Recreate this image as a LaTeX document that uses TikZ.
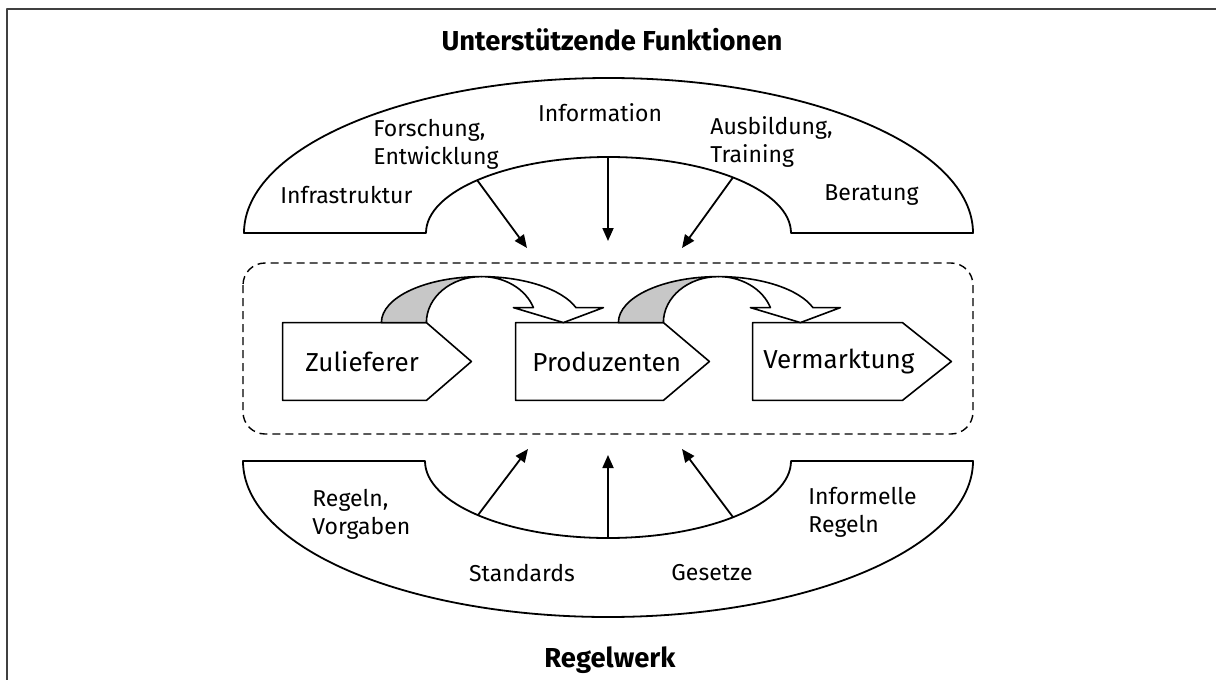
\documentclass[tikz,border=0pt]{standalone}
\usepackage{fontspec}
\setmainfont{Fira Sans}
\usetikzlibrary{arrows.meta,calc}
\begin{document}
\begin{tikzpicture}[x=0.5pt,y=-0.5pt,line join=round,>={Triangle[length=6.5pt,width=5.5pt]},
    bogen/.style={draw,line width=0.9pt,fill=white},
    etikett/.style={inner sep=0pt,font=\fontsize{11.5}{14}\selectfont,align=left},
    titel/.style={inner sep=0pt,font=\fontsize{13.7}{15}\selectfont\bfseries},
    stufe/.style={inner sep=0pt,minimum height=38.5pt},
    stufentext/.style={inner sep=0pt,font=\fontsize{13}{15}\selectfont},
    kante/.style={draw,line width=0.8pt},
    pfeil/.style={->,line width=0.9pt},
    rahmen/.style={draw,line width=0.7pt,dash pattern=on 4pt off 2.5pt,rounded corners=11pt},
    band/.style={draw,line width=0.8pt}]
\useasboundingbox (0,0) rectangle (1216,680);
\draw[line width=1pt,black!75] (7,680) -- (7,9) -- (1216,9);
\node[titel] (titelOben) at (612,40) {Unterstützende Funktionen};
\node[titel] (titelUnten) at (610,660) {Regelwerk};
% Boegen oben und unten
\draw[bogen] (244,233) arc[start angle=180,end angle=360,x radius=364.5,y radius=155]
    -- (791,233) arc[start angle=0,end angle=-180,x radius=182.5,y radius=76] -- cycle;
\draw[bogen] (243,461) arc[start angle=180,end angle=0,x radius=365,y radius=156]
    -- (791,461) arc[start angle=0,end angle=180,x radius=183,y radius=77] -- cycle;
\coordinate (mo) at (608.5,233);
\coordinate (mu) at (608,461);
\coordinate (fo1) at ($(mo)+(224:182.5 and 76)$);
\coordinate (fo2) at (608,157);
\coordinate (fo3) at ($(mo)+(313:182.5 and 76)$);
\coordinate (fu1) at ($(mu)+(135.3:183 and 77)$);
\coordinate (fu2) at ($(mu)+(90:183 and 77)$);
\coordinate (fu3) at ($(mu)+(46.9:183 and 77)$);
\coordinate (zo1) at (527,248);
\coordinate (zo2) at (608,241);
\coordinate (zo3) at (682,248);
\coordinate (zu1) at (528,449);
\coordinate (zu2) at (608,455);
\coordinate (zu3) at (682,449);
\draw[pfeil] (fo1) -- (zo1);
\draw[pfeil] (fo2) -- (zo2);
\draw[pfeil] (fo3) -- (zo3);
\draw[pfeil] (fu1) -- (zu1);
\draw[pfeil] (fu2) -- (zu2);
\draw[pfeil] (fu3) -- (zu3);
% Beschriftungen
\node[etikett,anchor=west] (forschung) at (373,144) {Forschung,\\Entwicklung};
\node[etikett] (information) at (600,113) {Information};
\node[etikett,anchor=west] (infra) at (280,195) {Infrastruktur};
\node[etikett,anchor=west] (ausbildung) at (710,142) {Ausbildung,\\Training};
\node[etikett,anchor=west] (beratung) at (824,195) {Beratung};
\node[etikett,anchor=west] (regeln) at (312,514) {Regeln,\\Vorgaben};
\node[etikett] (standards) at (522,573) {Standards};
\node[etikett] (gesetze) at (712,573) {Gesetze};
\node[etikett,anchor=west] (informell) at (808,512) {Informelle\\Regeln};
% Wertschoepfungskette
\draw[rahmen] (243,263) rectangle (973,434);
\node[stufe,minimum width=71.5pt] (zul) at (354.5,361.5) {};
\node[stufe,minimum width=73.5pt] (prod) at (589.5,361.5) {};
\node[stufe,minimum width=74.5pt] (verm) at (827.5,361.5) {};
\foreach \n/\s in {zul/22.5pt,prod/23pt,verm/24.5pt}
  \draw[kante] (\n.north west) -- (\n.north east) -- ([xshift=\s]\n.east)
    -- (\n.south east) -- (\n.south west) -- cycle;
\node[stufentext,anchor=west] (zulT) at (305,361.5) {Zulieferer};
\node[stufentext,anchor=west] (prodT) at (532,361.5) {Produzenten};
\node[stufentext,anchor=west] (vermT) at (763,361.5) {Vermarktung};
\foreach \n in {zul,prod}{
  \begin{scope}[shift={(\n.north east)}]
    \draw[band,fill=black!22] (-45,0) arc[start angle=180,end angle=270,x radius=100,y radius=46]
      arc[start angle=270,end angle=180,x radius=55,y radius=46] -- cycle;
    \draw[band,fill=white] (55,-46) arc[start angle=270,end angle=341,x radius=100,y radius=46]
      -- (177,-15) -- (137,0) -- (87,-15) -- (107,-15)
      arc[start angle=341,end angle=270,x radius=55,y radius=46] -- cycle;
  \end{scope}}
\end{tikzpicture}
\end{document}
